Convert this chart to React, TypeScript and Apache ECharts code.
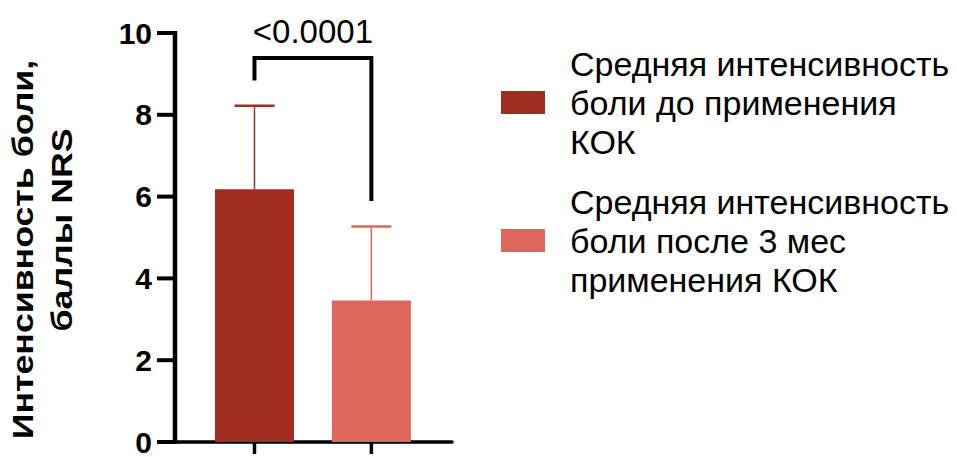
import React, { useEffect, useRef } from "react";
import * as echarts from "echarts";

// Groups (legend entries) and their positions on the x axis
const groupNames = [
  "Средняя интенсивность\nболи до применения\nКОК",
  "Средняя интенсивность\nболи после 3 мес\nприменения КОК",
];
const groupX = [1, 2];
const groupColors = ["#A02C22", "#DE665A"];

// Mean pain intensity (NRS) and SD
const means = [6.18, 3.46];
const sds = [2.04, 1.81];

// Y axis
const yTicks = [0, 2, 4, 6, 8, 10];
const yTitleLines = ["Интенсивность боли,", "баллы NRS"];

// Significance bracket: [x1, x2, top, left leg end, right leg end]
const bracket = [1, 2, 9.39, 8.84, 5.89];
const pValueText = "<0.0001";

const FONT = "Liberation Sans, Arial, Helvetica, sans-serif";

export default function App() {
  const ref = useRef<HTMLDivElement>(null);

  useEffect(() => {
    if (!ref.current) return;
    const chart = echarts.init(ref.current, null, { renderer: "svg" });

    const option: any = {
      animation: false,
      backgroundColor: "#ffffff",
      textStyle: { fontFamily: FONT },
      grid: { left: 175, right: 505, top: 33, bottom: 11 },
      xAxis: {
        type: "value",
        min: 0.32,
        max: 2.69,
        splitLine: { show: false },
        axisLine: { show: true, onZero: false, lineStyle: { color: "#000", width: 3.5 } },
        axisTick: { show: false },
        axisLabel: { show: false },
      },
      yAxis: {
        type: "value",
        min: yTicks[0],
        max: yTicks[yTicks.length - 1],
        interval: 2,
        splitLine: { show: false },
        axisLine: { show: false },
        axisTick: { show: false },
        axisLabel: {
          margin: 23,
          color: "#000",
          fontWeight: "bold",
          fontSize: 30,
        },
      },
      legend: {
        orient: "vertical",
        left: 496,
        top: 39,
        itemWidth: 44,
        itemHeight: 23,
        itemGap: 21,
        selectedMode: false,
        icon: "rect",
        data: groupNames,
        textStyle: {
          color: "#000",
          fontSize: 34,
          lineHeight: 39,
          padding: [0, 0, 0, 20],
        },
      },
      graphic: yTitleLines.map((line, i) => ({
        type: "text",
        x: i === 0 ? 23 : 61.5,
        y: i === 0 ? 249.5 : 230,
        rotation: Math.PI / 2,
        scaleX: 1.19,
        style: {
          text: line,
          fill: "#000",
          font: `bold 30px ${FONT}`,
          align: "center",
          verticalAlign: "middle",
        },
      })),
      series: [
        ...groupNames.map((name, i) => ({
          name,
          type: "bar",
          barWidth: 79,
          barGap: "-100%",
          itemStyle: { color: groupColors[i] },
          data: [[groupX[i], means[i]]],
          z: 2,
        })),
        {
          // y axis line and its tick marks, placed on the y scale
          type: "custom",
          name: "yAxisMarks",
          clip: false,
          silent: true,
          z: 5,
          data: yTicks.map((v) => [groupX[0], v]),
          renderItem: (params: any, api: any) => {
            const cs = params.coordSys;
            const y = api.coord([api.value(0), api.value(1)])[1];
            const children: any[] = [
              {
                type: "line",
                shape: { x1: cs.x - 18, y1: y, x2: cs.x, y2: y },
                style: { stroke: "#000", lineWidth: 4 },
              },
            ];
            if (params.dataIndex === 0) {
              children.push({
                type: "line",
                shape: { x1: cs.x, y1: cs.y - 2, x2: cs.x, y2: cs.y + cs.height + 1.5 },
                style: { stroke: "#000", lineWidth: 4.5 },
              });
            }
            return { type: "group", children };
          },
        },
        {
          // x axis tick marks under each group
          type: "custom",
          name: "xAxisMarks",
          clip: false,
          silent: true,
          z: 5,
          data: groupX.map((x) => [x, yTicks[0]]),
          renderItem: (_params: any, api: any) => {
            const p = api.coord([api.value(0), api.value(1)]);
            return {
              type: "line",
              shape: { x1: p[0], y1: p[1], x2: p[0], y2: p[1] + 12 },
              style: { stroke: "#000", lineWidth: 3.5 },
            };
          },
        },
        {
          type: "custom",
          name: "sd",
          clip: false,
          z: 3,
          data: groupX.map((x, i) => [x, means[i], means[i] + sds[i]]),
          renderItem: (params: any, api: any) => {
            const x = api.value(0);
            const p0 = api.coord([x, api.value(1)]);
            const p1 = api.coord([x, api.value(2)]);
            const color = groupColors[params.dataIndex];
            return {
              type: "group",
              children: [
                {
                  type: "line",
                  shape: { x1: p0[0], y1: p0[1], x2: p1[0], y2: p1[1] },
                  style: { stroke: color, lineWidth: 1.5 },
                },
                {
                  type: "line",
                  shape: { x1: p1[0] - 20, y1: p1[1], x2: p1[0] + 20, y2: p1[1] },
                  style: { stroke: color, lineWidth: 2.5 },
                },
              ],
            };
          },
        },
        {
          type: "custom",
          name: "bracket",
          clip: false,
          z: 4,
          data: [bracket],
          renderItem: (_params: any, api: any) => {
            const x1 = api.value(0);
            const x2 = api.value(1);
            const top = api.value(2);
            const a = api.coord([x1, api.value(3)]);
            const b = api.coord([x1, top]);
            const c = api.coord([x2, top]);
            const d = api.coord([x2, api.value(4)]);
            const mid = api.coord([(x1 + x2) / 2, top]);
            return {
              type: "group",
              children: [
                {
                  type: "polyline",
                  shape: { points: [a, b, c, d] },
                  style: { stroke: "#000", lineWidth: 4, fill: "none", lineJoin: "miter" },
                },
                {
                  type: "text",
                  x: mid[0],
                  y: mid[1] - 10,
                  style: {
                    text: pValueText,
                    fill: "#000",
                    font: `33px ${FONT}`,
                    align: "center",
                    verticalAlign: "bottom",
                  },
                },
              ],
            };
          },
        },
      ],
    };

    chart.setOption(option);
    return () => chart.dispose();
  }, []);

  return (
    <div
      ref={ref}
      style={{ position: "fixed", left: 0, top: 0, width: 957, height: 457 }}
    />
  );
}
